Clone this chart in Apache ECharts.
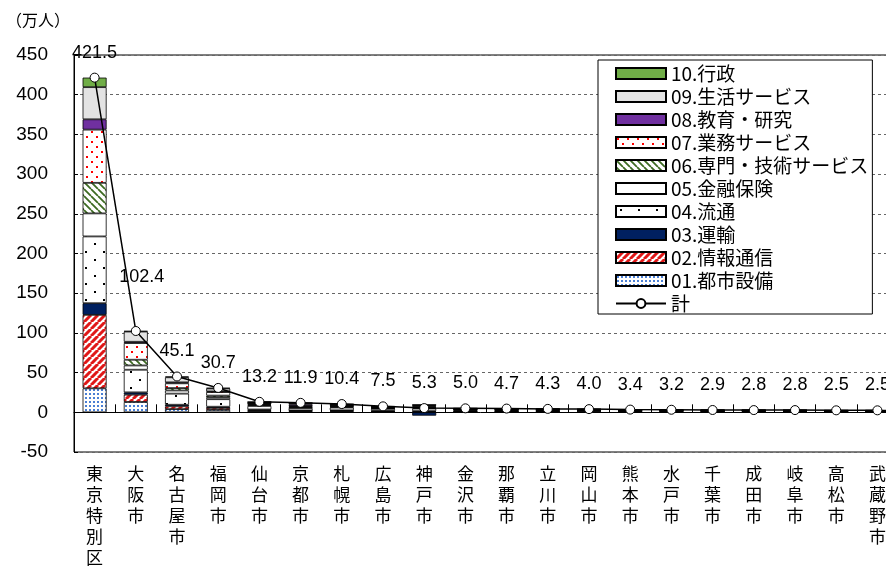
<!DOCTYPE html>
<html>
<head>
<meta charset="utf-8">
<script src="https://cdn.jsdelivr.net/npm/echarts@6/dist/echarts.min.js"></script>
<style>
  html, body { margin: 0; padding: 0; background: #fff; }
  #chart { width: 886px; height: 570px; }
</style>
</head>
<body>
<div id="chart"></div>
<script>
// Cities, in descending order of total
const cities = ['東京特別区','大阪市','名古屋市','福岡市','仙台市','京都市','札幌市','広島市','神戸市','金沢市',
                '那覇市','立川市','岡山市','熊本市','水戸市','千葉市','成田市','岐阜市','高松市','武蔵野市'];

// Totals (万人)
const totals = [421.5,102.4,45.1,30.7,13.2,11.9,10.4,7.5,5.3,5.0,4.7,4.3,4.0,3.4,3.2,2.9,2.8,2.8,2.5,2.5];

// Sector values (万人)
const s01 = [30.2,13.0,4.0,3.0,1.5,1.0,1.0,0.8,0.9,0.5,0.5,0.4,0.4,0.3,0.3,0.3,0.2,0.3,0.3,0.2];
const s02 = [92.5,9.2,3.5,2.5,1.2,0.8,0.8,0.5,0.6,0.4,0.3,0.4,0.3,0.2,0.2,0.2,0.1,0.1,0.2,0.3];
const s03 = [14.7,2.9,2.0,1.5,0.8,0.6,0.7,0.6,-4.2,0.3,0.3,0.3,0.3,0.2,0.2,0.2,0.9,0.2,0.1,0.1];
const s04 = [84.1,28.5,14.0,9.5,4.5,3.0,3.5,2.5,3.2,1.6,1.4,1.3,1.3,1.1,1.0,0.9,0.7,0.9,0.8,0.7];
const s05 = [29.0,5.4,4.0,2.5,1.2,0.8,0.8,0.6,0.8,0.4,0.3,0.3,0.3,0.3,0.3,0.2,0.1,0.2,0.2,0.2];
const s06 = [38.5,7.2,3.0,2.0,1.0,0.8,0.6,0.5,0.6,0.3,0.3,0.3,0.2,0.2,0.2,0.2,0.1,0.2,0.2,0.2];
const s07 = [67.0,21.0,6.0,4.5,1.2,1.0,1.2,0.8,1.2,0.5,0.6,0.6,0.4,0.3,0.3,0.3,0.3,0.3,0.2,0.3];
const s08 = [13.0,1.6,1.2,0.8,0.3,2.0,0.4,0.3,0.8,0.3,0.2,0.2,0.3,0.3,0.2,0.2,0.1,0.2,0.1,0.1];
const s09 = [40.5,12.9,6.4,3.7,1.2,1.6,1.1,0.7,1.2,0.6,0.6,0.4,0.4,0.4,0.3,0.3,0.2,0.3,0.3,0.3];
const s10 = [12.0,0.7,1.0,0.7,0.3,0.3,0.3,0.2,0.2,0.1,0.2,0.1,0.1,0.1,0.2,0.1,0.1,0.1,0.1,0.1];

const sectorNames = ['01.都市設備','02.情報通信','03.運輸','04.流通','05.金融保険',
                     '06.専門・技術サービス','07.業務サービス','08.教育・研究','09.生活サービス','10.行政'];
const totalName = '計';
const yTicks = { min: -50, max: 450, step: 50 };

// Tile patterns for the hatched / dotted fills
function tile(w, h, draw) {
  const c = document.createElement('canvas');
  c.width = w; c.height = h;
  const ctx = c.getContext('2d');
  ctx.fillStyle = '#fff';
  ctx.fillRect(0, 0, w, h);
  draw(ctx);
  return { image: c, repeat: 'repeat' };
}
function dots(w, h, color, pts, size) {
  return tile(w, h, ctx => {
    ctx.fillStyle = color;
    pts.forEach(p => ctx.fillRect(p[0], p[1], size, size));
  });
}
function stripes(s, color, width, rising) {
  return tile(s, s, ctx => {
    ctx.strokeStyle = color;
    ctx.lineWidth = width;
    ctx.beginPath();
    for (let k = -1; k <= 1; k++) {
      const x0 = k * s;
      if (rising) { ctx.moveTo(x0, s); ctx.lineTo(x0 + s, 0); }
      else { ctx.moveTo(x0, 0); ctx.lineTo(x0 + s, s); }
    }
    ctx.stroke();
  });
}

const fills = [
  dots(4, 4, '#4a7fd4', [[1, 1]], 2),                 // 01
  stripes(7, '#e01818', 3, true),                     // 02
  '#002060',                                          // 03
  dots(18, 16, '#000', [[4, 3], [13, 11]], 2),         // 04
  '#ffffff',                                          // 05
  stripes(7, '#3d6b22', 1.8, false),                  // 06
  dots(10, 10, '#ff0000', [[1, 1], [6, 6]], 2),        // 07
  '#7030a0',                                          // 08
  '#e3e3e3',                                          // 09
  '#70ad47'                                           // 10
];
const sectorData = [s01, s02, s03, s04, s05, s06, s07, s08, s09, s10];

const numFont = 'Liberation Sans, Arial, sans-serif';
const cjkFont = '"Noto Sans CJK JP", "Liberation Sans", sans-serif';

const barSeries = sectorData.map((arr, i) => ({
  name: sectorNames[i],
  type: 'bar',
  stack: 'sum',
  barWidth: 24,
  xAxisIndex: 0,
  itemStyle: { color: fills[i], borderColor: '#000', borderWidth: 0.8 },
  emphasis: { disabled: true },
  data: arr
}));

const lineLabelOffsets = { 1: [6, -29] };
const lineSeries = {
  name: totalName,
  type: 'line',
  xAxisIndex: 0,
  z: 5,
  symbol: 'circle',
  symbolSize: 9,
  lineStyle: { color: '#000', width: 1.5 },
  itemStyle: { color: '#fff', borderColor: '#000', borderWidth: 1 },
  label: {
    show: true, position: 'top', distance: 11,
    color: '#000', fontSize: 18, fontFamily: numFont,
    formatter: p => p.value.toFixed(1)
  },
  emphasis: { disabled: true },
  data: totals.map((v, i) => lineLabelOffsets[i]
    ? { value: v, label: { offset: lineLabelOffsets[i] } }
    : v)
};

const legendOrder = sectorNames.slice().reverse().map(n => ({ name: n, icon: 'rect' }));
legendOrder.push({ name: totalName });

const chart = echarts.init(document.getElementById('chart'), null, { renderer: 'canvas' });
chart.setOption({
  animation: false,
  backgroundColor: '#fff',
  graphic: [{
    type: 'text', left: 6, top: 12,
    style: { text: '（万人）', fontSize: 16, fontFamily: cjkFont, fill: '#000' }
  }],
  grid: {
    left: 74, top: 55, width: 824, height: 397,
    outerBoundsMode: 'none',
    show: true, borderColor: '#000', borderWidth: 1, backgroundColor: '#fff'
  },
  legend: {
    orient: 'vertical',
    left: 598, top: 60,
    padding: [4, 4, 1, 17],
    itemWidth: 50, itemHeight: 11, itemGap: 4,
    backgroundColor: '#fff', borderColor: '#000', borderWidth: 1,
    textStyle: { fontSize: 19, lineHeight: 19, fontFamily: cjkFont, color: '#000' },
    selectedMode: false,
    data: legendOrder
  },
  xAxis: [{
    type: 'category',
    data: cities,
    position: 'bottom',
    axisLine: { show: false, onZero: false },
    axisTick: { show: false },
    axisLabel: {
      interval: 0, margin: 11,
      fontSize: 17, lineHeight: 21, fontFamily: cjkFont, color: '#000',
      formatter: v => v.split('').join('\n')
    }
  }, {
    type: 'category',
    data: cities,
    position: 'bottom',
    axisLine: { show: true, onZero: true, lineStyle: { color: '#000', width: 1 } },
    axisTick: { show: true, inside: true, length: 8, interval: 0, lineStyle: { color: '#000' } },
    axisLabel: { show: false }
  }],
  yAxis: {
    type: 'value',
    min: yTicks.min, max: yTicks.max, interval: yTicks.step,
    axisLine: { show: true, lineStyle: { color: '#000' } },
    axisTick: { show: true, inside: true, length: 4, lineStyle: { color: '#000' } },
    axisLabel: { fontSize: 19, fontFamily: numFont, color: '#000', margin: 26 },
    splitLine: { show: true, lineStyle: { color: '#666', type: [3, 3], width: 1 } }
  },
  series: [...barSeries, lineSeries]
});
</script>
</body>
</html>
